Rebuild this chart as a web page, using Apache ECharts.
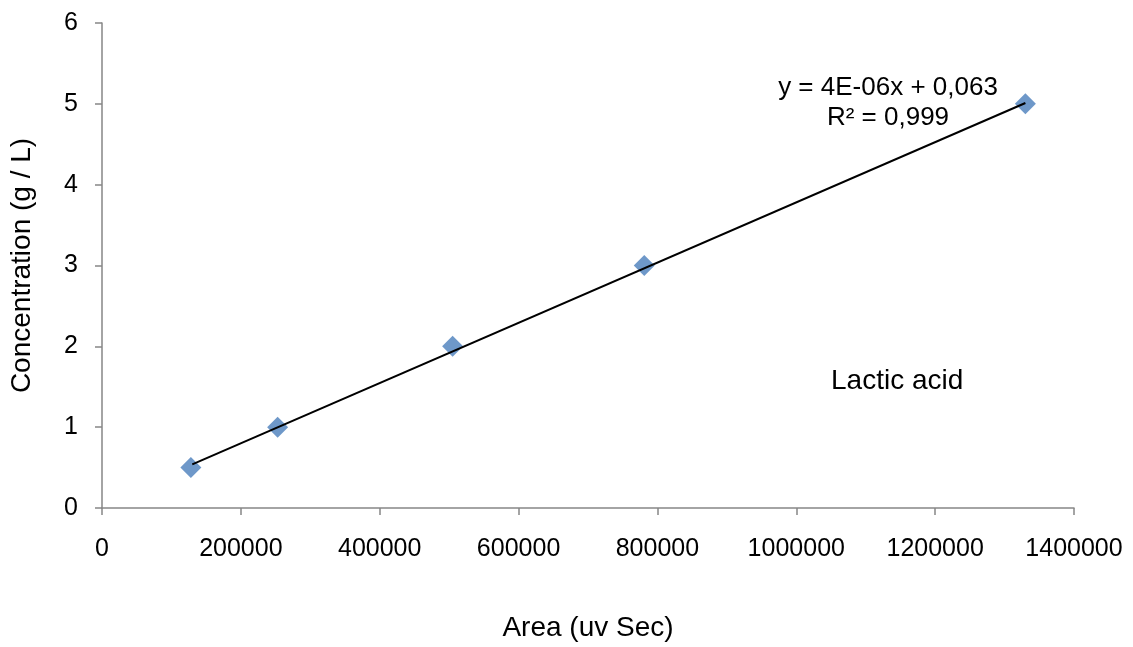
<!DOCTYPE html>
<html>
<head>
<meta charset="utf-8">
<script src="https://cdn.jsdelivr.net/npm/echarts@6/dist/echarts.min.js"></script>
<style>
  html, body { margin: 0; padding: 0; background: #fff; }
  #chart { width: 1133px; height: 647px; }
</style>
</head>
<body>
<div id="chart"></div>
<script>
// standard points: area (uv Sec) vs concentration (g / L)
const areas = [128000, 253000, 505000, 781000, 1330000];
const concentrations = [0.5, 1, 2, 3, 5];

// linear trend line ends
const trendX = [130000, 1330000];
const trendY = [0.54, 5.01];

const equationText = "y = 4E-06x + 0,063";
const r2Text = "R² = 0,999";
const seriesLabel = "Lactic acid";

const axisGray = "#868686";
const font = "Liberation Sans, Arial, sans-serif";

const chart = echarts.init(document.getElementById("chart"));

chart.setOption({
  animation: false,
  grid: { left: 101, right: 59, top: 23, bottom: 137 },
  xAxis: {
    type: "value",
    min: 0,
    max: 1400000,
    interval: 200000,
    name: "Area (uv Sec)",
    nameLocation: "middle",
    nameGap: 106,
    nameTextStyle: { fontFamily: font, fontSize: 28, color: "#000" },
    axisLine: { lineStyle: { color: axisGray, width: 1.5 } },
    axisTick: { show: true, length: 7, lineStyle: { color: axisGray, width: 1.5 } },
    axisLabel: {
      fontFamily: font, fontSize: 25, color: "#000", margin: 29,
      formatter: (v) => String(v),
    },
    splitLine: { show: false },
  },
  yAxis: {
    type: "value",
    min: 0,
    max: 6,
    interval: 1,
    name: "Concentration (g / L)",
    nameLocation: "middle",
    nameGap: 66,
    nameTextStyle: { fontFamily: font, fontSize: 28, color: "#000" },
    axisLine: { show: true, lineStyle: { color: axisGray, width: 1.5 } },
    axisTick: { show: true, length: 7, lineStyle: { color: axisGray, width: 1.5 } },
    axisLabel: { fontFamily: font, fontSize: 25, color: "#000", margin: 24 },
    splitLine: { show: false },
  },
  series: [
    {
      type: "line",
      data: trendX.map((x, i) => [x, trendY[i]]),
      symbol: "none",
      lineStyle: { color: "#000", width: 2 },
      z: 3,
    },
    {
      type: "scatter",
      data: areas.map((x, i) => [x, concentrations[i]]),
      symbol: "diamond",
      symbolSize: 21,
      itemStyle: { color: "#4a7ebb" },
      z: 2,
    },
  ],
  graphic: [
    {
      type: "text",
      x: 888, y: 88,
      style: {
        text: equationText,
        align: "center", verticalAlign: "middle",
        font: "26px " + font, fill: "#000",
      },
    },
    {
      type: "text",
      x: 888, y: 118,
      style: {
        text: r2Text,
        align: "center", verticalAlign: "middle",
        font: "26px " + font, fill: "#000",
      },
    },
    {
      type: "text",
      x: 831, y: 381,
      style: {
        text: seriesLabel,
        align: "left", verticalAlign: "middle",
        font: "28px " + font, fill: "#000",
      },
    },
  ],
});
</script>
</body>
</html>
